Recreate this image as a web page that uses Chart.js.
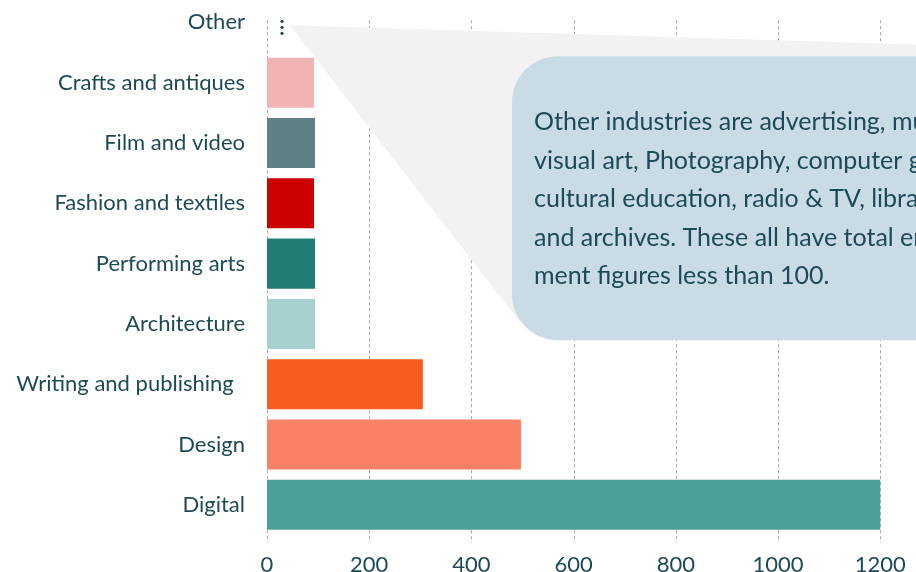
<!DOCTYPE html>
<html><head><meta charset="utf-8">
<script src="https://cdn.jsdelivr.net/npm/chart.js@4/dist/chart.umd.min.js"></script>
<style>
html,body{margin:0;padding:0;overflow:hidden;background:#fff;width:916px;height:572px;}
#wrap{position:absolute;left:0;top:0;width:916px;}
</style></head><body>
<div id="wrap"></div>
<script>
const categories = ["Other","Crafts and antiques","Film and video","Fashion and textiles","Performing arts","Architecture","Writing and publishing  ","Design","Digital"];
const values = [0, 92, 94, 92, 94, 94, 305, 497, 1200];
const barColors = ["rgba(0,0,0,0)","#f0b2b3","#5f8084","#cc0000","#217d72","#a5d0cd","#f85c1d","#fa8166","#4aa098"];
const tickValues = [0, 200, 400, 600, 800, 1000, 1200];
const calloutLines = [
  "Other industries are advertising, music,",
  "visual art, Photography, computer games,",
  "cultural education, radio & TV, libraries",
  "and archives. These all have total employ-",
  "ment figures less than 100."
];
const TXT = "#1d4a57";
const FONT = "Lato, 'Open Sans', sans-serif";

function pageOff(chart){ return chart.chartArea.top + 8; }

const deco = {
  id:'deco',
  beforeDatasetsDraw(chart){
    const ctx = chart.ctx, xs = chart.scales.x, ca = chart.chartArea, OFF = pageOff(chart);
    ctx.save();
    ctx.strokeStyle = "#a6a6a6"; ctx.lineWidth = 1; ctx.setLineDash([3,3]);
    xs.ticks.forEach(t=>{
      const px = Math.round(xs.getPixelForValue(t.value))+0.5;
      ctx.beginPath(); ctx.moveTo(px, 20+OFF); ctx.lineTo(px, ca.bottom+8); ctx.stroke();
    });
    ctx.restore();
  },
  afterDatasetsDraw(chart){
    const ctx = chart.ctx, ys = chart.scales.y, xs = chart.scales.x, OFF = pageOff(chart);
    ctx.save();
    ctx.translate(0, OFF);
    ctx.fillStyle = "#f2f2f2";
    ctx.beginPath();
    ctx.moveTo(290,25); ctx.lineTo(1000,47); ctx.lineTo(900,200); ctx.lineTo(520,322); ctx.closePath(); ctx.fill();
    ctx.fillStyle = "#c9dce6";
    ctx.beginPath();
    ctx.roundRect(512,56,600,284,46);
    ctx.fill();
    ctx.fillStyle = TXT;
    ctx.font = "25px " + FONT;
    ctx.textBaseline = "middle"; ctx.textAlign = "left";
    calloutLines.forEach((l,i)=>ctx.fillText(l, 534, 122 + i*38.5));
    ctx.restore();
    ctx.save();
    ctx.fillStyle = TXT;
    const cy = ys.getPixelForValue(0);
    const cx = xs.getPixelForValue(values[0]) + 15;
    [-6,0,6].forEach(d=>{ctx.beginPath(); ctx.arc(cx, cy+5+d, 1.6, 0, Math.PI*2); ctx.fill();});
    ctx.restore();
  }
};

function build(h){
  const wrap = document.getElementById('wrap');
  wrap.innerHTML = '';
  const cv = document.createElement('canvas');
  cv.width = 916; cv.height = h; cv.style.width='916px'; cv.style.height=h+'px';
  wrap.appendChild(cv);
  return new Chart(cv, {
    type:'bar',
    data:{labels:categories, datasets:[{data:values, backgroundColor:barColors, barPercentage:0.83, categoryPercentage:1}]},
    options:{
      indexAxis:'y', responsive:false, animation:false, devicePixelRatio:1,
      layout:{padding:0},
      plugins:{legend:{display:false}, tooltip:{enabled:false}},
      scales:{
        x:{min:0,max:1270, ticks:{color:TXT, font:{family:FONT,size:22}, padding:9, maxRotation:0, autoSkip:false,
             callback:(v)=>String(v)},
           afterBuildTicks:(s)=>{ s.ticks = tickValues.map(v=>({value:v})); },
           grid:{display:false}, border:{display:false},
           afterFit:(s)=>{s.height=37;}},
        y:{ticks:{color:TXT, font:{family:FONT,size:22}, padding:14},
           grid:{display:false}, border:{display:false},
           afterFit:(s)=>{s.width=267;}}
      }
    },
    plugins:[deco]
  });
}
let ch = build(620);
const T = ch.chartArea.top;
ch.destroy();
document.getElementById('wrap').style.top = (-(T+8))+'px';
ch = build(580 + T);
</script></body></html>
